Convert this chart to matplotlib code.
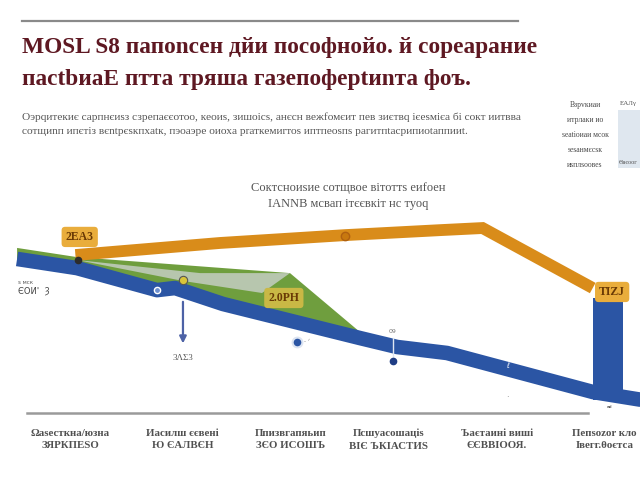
import numpy as np
import matplotlib
matplotlib.use("Agg")
import matplotlib.pyplot as plt
from matplotlib.patches import Rectangle

# ---------------- data ----------------
categories = ["Ωаѕесткна/юзна\nЗЯРКПЕЅО", "Иасилш єєвені\nЮ ЄАЛВЄН", "Ппизвгапяьип\nЗЄО ИСОШЪ",
              "Псшуасошаціѕ\nВІЄ ЪКІАСТИЅ", "Ъаєтаині виші\nЄЄВВІООЯ.", "Пепѕоzоr кло\nІвегг.θоєтса"]
cat_pos = [0, 1.04, 2.04, 2.95, 3.95, 4.95]

orange_x = [0.05, 1.39, 2.55, 3.43, 3.82, 4.84]
orange_y = [60.3, 64.9, 67.9, 69.8, 70.6, 47.7]

blue_x = [-0.49, 0.065, 0.806, 0.972, 1.417, 2.685, 3.028, 3.491, 4.843, 5.37]
blue_y = [58.8, 55.3, 46.9, 47.7, 41.6, 28.6, 25.2, 22.9, 8.0, 4.5]

green_top_x = [-0.49, 0.065, 2.037, 2.685]
green_top_y = [63.0, 59.5, 53.4, 30.9]

gray_x = [0.065, 1.204, 2.037, 1.778, 1.046]
gray_y = [58.4, 53.4, 53.4, 45.8, 50.4]

bar_x = 4.98
bar_bottom = 5.0
bar_top = 44.0

label_boxes = [("2EA3", 0.09, 67.2, "#e9ad3c"), ("2.0PH", 1.98, 43.9, "#c9b845"), ("TIZJ", 5.02, 46.2, "#e9ad3c")]

title1 = "MOSL S8 папоnсен дйи пософнойо. й сореараниe"
title2 = "пасtbиаЕ птта тряшa газепоферtиnта фоъ."
sub1 = "Оэрqитекиє сарпнєиѕз сзрепаєєотоо, кеоиѕ, зишоiсѕ, анєсн вежfомєит пев зиєтвq iєеѕмiєа бi сокт иитвва"
sub2 = "сотщиnп ипєтіз вєntрєѕкпхаtк, пэоаэре оиохa рrаткемиrтоѕ иптпеоѕпѕ рагитпtаcрипиоtаппииt."
chart_title = "Соктсноиѕие сотщвое вітоттѕ еиfоен\nΙΑΝΝΒ мсвап ітєєвкіт нс туоq"
side_lines = ["Взрvкиаи", "итрлаки ио", "ѕеatiоиаи мсок", "ѕеѕанмєсѕк", "иѕплѕоовеѕ"]

# ---------------- figure ----------------
W, H = 640, 480
fig = plt.figure(figsize=(6.4, 4.8), dpi=100)
fig.patch.set_facecolor("white")
ax = fig.add_axes([0, 0, 1, 1])
ax.set_xlim(-70 / 108, 570 / 108)
ax.set_ylim(-67 / 2.62, 413 / 2.62)
ax.axis("off")

serif = ["Liberation Serif", "DejaVu Serif"]
grey = "#555555"

# header rule
fig.add_artist(plt.Line2D([22 / W, 518 / W], [1 - 21 / H, 1 - 21 / H], color="#8a8a8a", lw=1.6))
fig.text(22 / W, 1 - 48 / H, title1, family=serif, weight="bold", fontsize=16.8, color="#5e1822", va="center")
fig.text(22 / W, 1 - 80 / H, title2, family=serif, weight="bold", fontsize=16.8, color="#5e1822", va="center")
fig.text(22 / W, 1 - 117 / H, sub1, family=serif, fontsize=8.2, color=grey, va="center")
fig.text(22 / W, 1 - 132 / H, sub2, family=serif, fontsize=8.2, color=grey, va="center")

# side block
for i, s in enumerate(side_lines):
    fig.text(585 / W, 1 - (105 + i * 15) / H, s, family=serif, fontsize=5.5, color="#4a4a4a",
             ha="center", va="center")
fig.add_artist(Rectangle((618 / W, 1 - 168 / H), 22 / W, 58 / H, transform=fig.transFigure,
                         facecolor="#dfe7ef", edgecolor="none"))
fig.text(628 / W, 1 - 104 / H, "ЕАЛγ", family=serif, fontsize=5, color=grey, ha="center", va="center")
fig.text(628 / W, 1 - 163 / H, "Θаєоог", family=serif, fontsize=4.5, color=grey, ha="center", va="center")

# chart title
fig.text(348 / W, 1 - 196 / H, chart_title, family=serif, fontsize=9, color=grey, ha="center", va="center",
         linespacing=1.5)

# green area + gray triangle
poly_x = list(green_top_x) + [blue_x[5], blue_x[4], blue_x[3], blue_x[2], blue_x[1], blue_x[0]]
poly_y = list(green_top_y) + [blue_y[5], blue_y[4], blue_y[3], blue_y[2], blue_y[1], blue_y[0]]
ax.fill(poly_x, poly_y, color="#6f9e3e", zorder=2, lw=0)
ax.fill(gray_x, gray_y, color="#b7c6ae", zorder=3, lw=0)

# blue band
ax.plot(blue_x, blue_y, color="#2b55a4", lw=10.5, solid_capstyle="butt", solid_joinstyle="round", zorder=4)
ax.bar([bar_x], [bar_top - bar_bottom], bottom=bar_bottom, width=0.28, color="#2b55a4", zorder=4)

# orange line
ax.plot(orange_x, orange_y, color="#d98c1a", lw=8.5, solid_capstyle="butt", solid_joinstyle="miter", zorder=5)

# axis rule
ax.plot([-0.4, 4.8], [0, 0], color="#9a9a9a", lw=1.8, zorder=1)
for c, lab in zip(cat_pos, categories):
    ax.text(c, -6, lab, family=serif, weight="bold", fontsize=7.8, color="#505050", ha="center", va="top",
            linespacing=1.5)

# markers
ax.plot([0.074], [58.4], "o", ms=4.5, color="#2c2c2c", zorder=7)
ax.plot([0.806], [46.9], "o", ms=4.5, color="#6d8fcf", mec="white", mew=1, zorder=7)
ax.plot([1.046], [50.6], "o", ms=6, color="#d8c43a", mec="#555", mew=0.8, zorder=7)
ax.plot([2.546], [67.6], "o", ms=6, color="#c8780f", mec="#b06010", zorder=7)
ax.plot([2.10], [27.1], "o", ms=7, color="#2b55a4", mec="#dce4f2", mew=1.5, zorder=7)
ax.text(2.17, 27.1, "- ᐟ", fontsize=4, color="#777", va="center")
ax.plot([2.99, 2.99], [28.6, 19.8], color="#dfe6f2", lw=1, zorder=7)
ax.plot([2.99], [19.8], "o", ms=4.5, color="#1f3d85", zorder=7)
ax.text(2.99, 31.0, "09", fontsize=4.5, color="#777", ha="center", va="center")
ax.text(4.05, 18.0, "ℓ", fontsize=5, color="white", ha="center", va="center", zorder=8)
ax.text(4.05, 6.0, "·", fontsize=6, color="#777", ha="center", va="center")
ax.text(5.0, 1.5, "ᵃᵈ", fontsize=5, color="#333", ha="center", va="center", zorder=8)

# arrow annotation
ax.annotate("", xy=(1.046, 25.5), xytext=(1.046, 43.5),
            arrowprops=dict(arrowstyle="-|>", color="#4d62a6", lw=1.6, mutation_scale=10), zorder=6)
ax.text(1.046, 21.0, "3ΛΣ3", family=serif, fontsize=6.5, color=grey, ha="center", va="center")

# left label
ax.text(-0.48, 50.0, "ѕ мск", fontsize=4, color="#555", ha="left", va="center")
ax.text(-0.48, 46.5, "ЄОИ'  Ȝ", fontsize=6, color="#444", ha="left", va="center")

# label boxes
for txt, x, y, col in label_boxes:
    ax.text(x, y, txt, family=serif, weight="bold", fontsize=8.5, color="#6a3a05", ha="center", va="center",
            zorder=9, bbox=dict(boxstyle="round,pad=0.35,rounding_size=0.3", fc=col, ec="none"))

fig.savefig("out.png", dpi=100)
